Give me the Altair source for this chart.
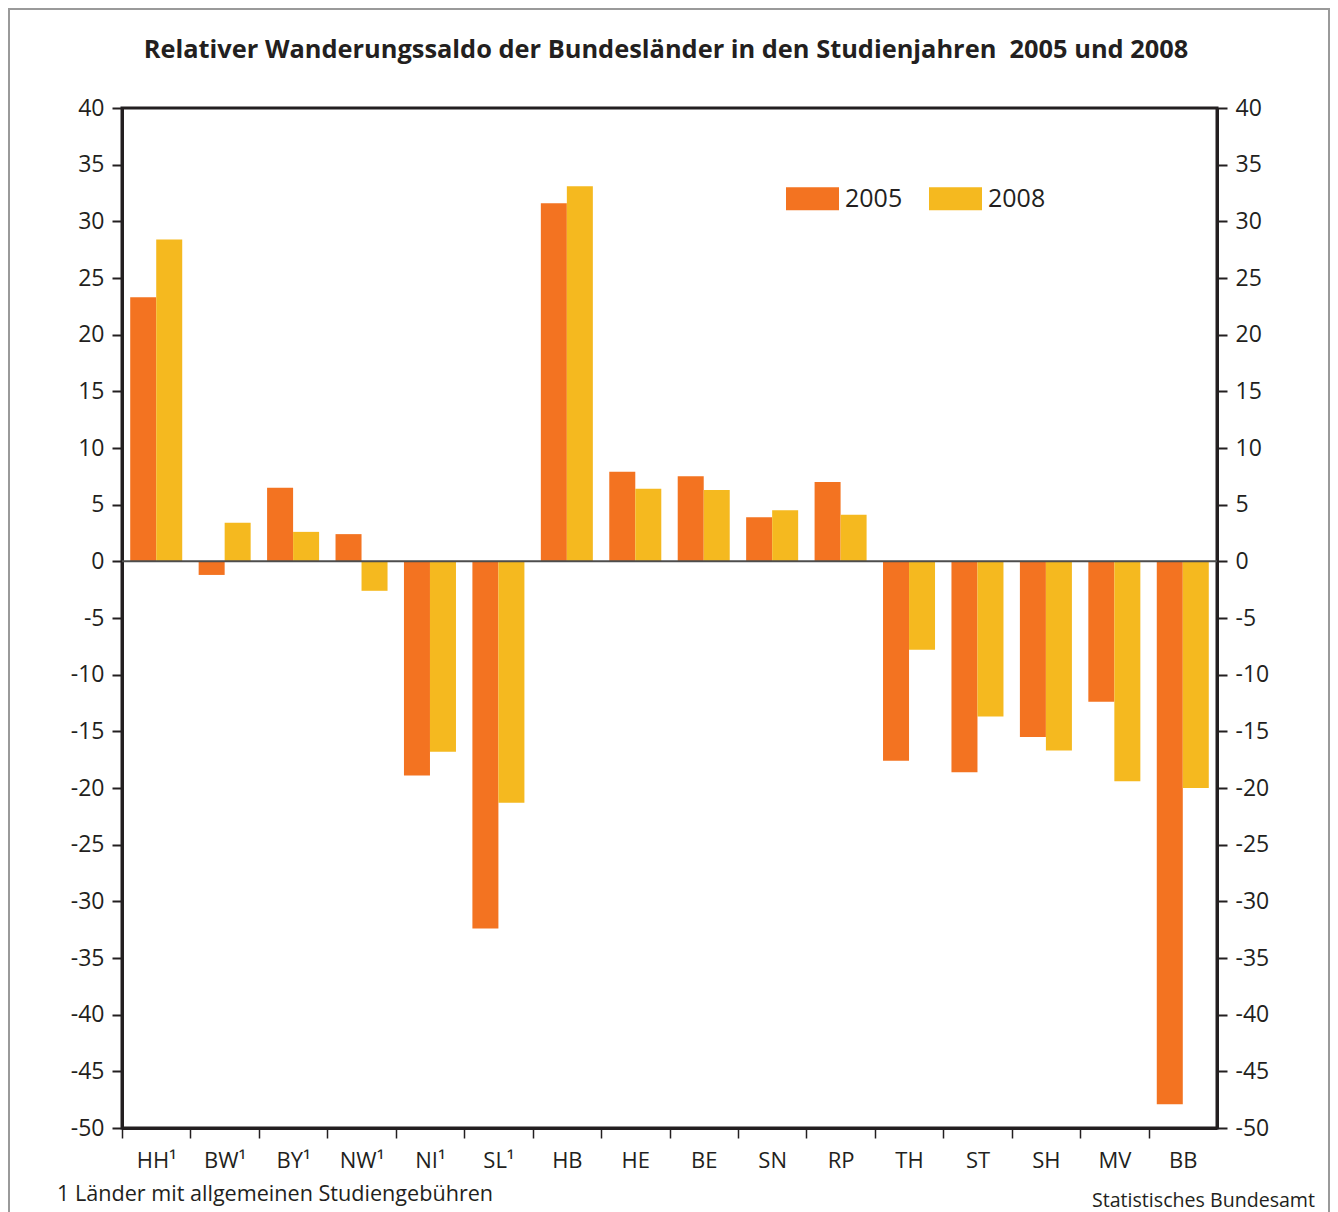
import altair as alt
import pandas as pd

laender = ["HH¹", "BW¹", "BY¹", "NW¹", "NI¹", "SL¹", "HB", "HE", "BE", "SN", "RP", "TH", "ST", "SH", "MV", "BB"]
v2005 = [23.3, -1.2, 6.5, 2.4, -18.9, -32.4, 31.6, 7.9, 7.5, 3.9, 7.0, -17.6, -18.6, -15.5, -12.4, -47.9]
v2008 = [28.4, 3.4, 2.6, -2.6, -16.8, -21.3, 33.1, 6.4, 6.3, 4.5, 4.1, -7.8, -13.7, -16.7, -19.4, -20.0]
years = ["2005", "2008"]
colors = ["#F37321", "#F5B91F"]
y_ticks = list(range(-50, 45, 5))
title_text = "Relativer Wanderungssaldo der Bundesländer in den Studienjahren\u00a0 2005 und 2008"
footnote = "1 Länder mit allgemeinen Studiengebühren"
source = "Statistisches Bundesamt"

rows = []
for i, l in enumerate(laender):
    rows.append({"land": l, "jahr": years[0], "wert": v2005[i]})
    rows.append({"land": l, "jahr": years[1], "wert": v2008[i]})
df = pd.DataFrame(rows)

W, H = 1095, 1020
step = W / 16
FONT = "Open Sans"
ink = "#231f20"

yscale = alt.Scale(domain=[-50, 40], nice=False, zero=False)


def y_axis(orient):
    return alt.Axis(orient=orient, values=y_ticks, labelFontSize=23, labelFont=FONT,
                    labelColor=ink, labelPadding=8, tickSize=10, tickWidth=2,
                    tickColor=ink, domainColor=ink, domainWidth=3, grid=False,
                    labelExpr="'' + datum.value")


bars = alt.Chart(df).mark_bar().encode(
    x=alt.X("land:N", sort=laender, title=None,
            scale=alt.Scale(paddingInner=0.24, paddingOuter=0.12),
            axis=alt.Axis(labelAngle=0, labelFontSize=22, labelFont=FONT, labelColor=ink,
                          labelPadding=12, tickSize=10, tickWidth=1.5, tickColor=ink,
                          tickOffset=-step / 2, labelOffset=step / 2,
                          domainColor=ink, domainWidth=3)),
    xOffset=alt.XOffset("jahr:N", sort=years, scale=alt.Scale(paddingInner=0, paddingOuter=0)),
    y=alt.Y("wert:Q", scale=yscale, title=None, axis=y_axis("left")),
    color=alt.Color("jahr:N", sort=years, scale=alt.Scale(domain=years, range=colors),
                    legend=alt.Legend(title=None, orient="none", legendX=664, legendY=64,
                                      direction="horizontal", padding=0,
                                      symbolType="M-1,-0.434L1,-0.434L1,0.434L-1,0.434Z",
                                      symbolSize=2809, symbolStrokeWidth=0, symbolOpacity=1,
                                      labelFontSize=25, labelFont=FONT, labelColor=ink,
                                      labelOffset=6, columnPadding=26)),
)

zero = alt.Chart(pd.DataFrame({"z": [0]})).mark_rule(color="#4d4d4d", strokeWidth=2).encode(
    y=alt.Y("z:Q", scale=yscale, title=None, axis=y_axis("right"))
)

title = alt.Chart(pd.DataFrame({"t": [title_text]})).mark_text(
    align="center", baseline="middle", fontSize=25.4, fontWeight="bold", font=FONT, color=ink
).encode(x=alt.value(666 - 122), y=alt.value(50 - 108), text="t:N")

note1 = alt.Chart(pd.DataFrame({"t": [footnote]})).mark_text(
    align="left", baseline="alphabetic", fontSize=21.6, font=FONT, color=ink
).encode(x=alt.value(57 - 122), y=alt.value(1201 - 108), text="t:N")

note2 = alt.Chart(pd.DataFrame({"t": [source]})).mark_text(
    align="right", baseline="alphabetic", fontSize=19.6, font=FONT, color=ink
).encode(x=alt.value(1315 - 122), y=alt.value(1207 - 108), text="t:N")

frame = alt.Chart(pd.DataFrame({"f": [1]})).mark_rect(
    fillOpacity=0, stroke="#9a9a9a", strokeWidth=2
).encode(x=alt.value(-113), x2=alt.value(1207), y=alt.value(-99), y2=alt.value(1200))

chart = alt.layer(bars, zero, title, note1, note2, frame).resolve_scale(y="shared").resolve_axis(
    y="independent"
).properties(
    width=W, height=H,
    autosize=alt.AutoSizeParams(type="none"),
    padding={"left": 114, "top": 100, "right": 113, "bottom": 100},
).configure_view(stroke=ink, strokeWidth=3)

chart.save("out.html", embed_options={"renderer": "svg", "actions": False})
